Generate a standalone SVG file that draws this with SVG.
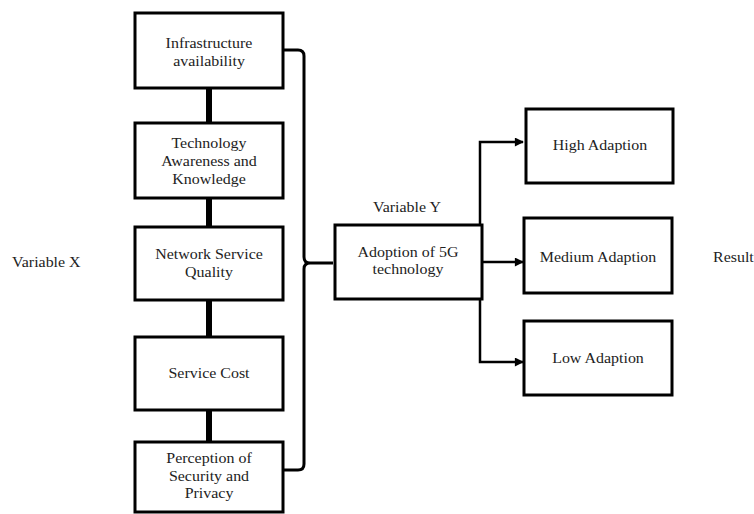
<svg xmlns="http://www.w3.org/2000/svg" width="754" height="514" viewBox="0 0 754 514">
<style>
.box{fill:#fff;stroke:#000;stroke-width:3}
.t{font-family:"Liberation Serif","Times New Roman",serif;font-size:14px;fill:#222;text-anchor:middle}
.tl{font-family:"Liberation Serif","Times New Roman",serif;font-size:14px;fill:#222}
.link{stroke:#000;stroke-width:6;fill:none}
.brace{stroke:#000;stroke-width:3;fill:none}
.arr{stroke:#000;stroke-width:2.5;fill:none;marker-end:url(#ah)}
</style>
<defs>
<marker id="ah" viewBox="0 0 10 10" refX="9" refY="5" markerWidth="4" markerHeight="3.6" markerUnits="strokeWidth" orient="auto">
<path d="M0,0 L10,5 L0,10 z" fill="#000"/>
</marker>
</defs>
<g id="connectors">
<line class="link" x1="209" y1="88" x2="209" y2="123"/>
<line class="link" x1="209" y1="198" x2="209" y2="227"/>
<line class="link" x1="209" y1="300" x2="209" y2="337"/>
<line class="link" x1="209" y1="410" x2="209" y2="442"/>
<path class="brace" d="M283,50 H298 Q304,50 304,56 V257 Q304,263 310,263 H333 M310,263 Q304,263 304,269 V464 Q304,470 298,470 H283"/>
<path class="arr" d="M482,262 H523"/>
<path class="arr" d="M480,225 V142 H523"/>
<path class="arr" d="M480,299 V362 H523"/>
</g>
<g id="label-variable-x"><text class="tl" transform="translate(12,267) scale(1.14,1)">Variable X</text></g>
<g id="label-variable-y"><text class="t" transform="translate(407,212) scale(1.14,1)">Variable Y</text></g>
<g id="label-result"><text class="tl" transform="translate(713,262) scale(1.14,1)">Result</text></g>
<g id="node-infrastructure">
<rect class="box" x="135" y="13" width="148" height="75"/>
<text class="t" transform="translate(209,48) scale(1.14,1)">Infrastructure</text>
<text class="t" transform="translate(209,66) scale(1.14,1)">availability</text>
</g>
<g id="node-awareness">
<rect class="box" x="135" y="123" width="148" height="75"/>
<text class="t" transform="translate(209,148) scale(1.14,1)">Technology</text>
<text class="t" transform="translate(209,166) scale(1.14,1)">Awareness and</text>
<text class="t" transform="translate(209,184) scale(1.14,1)">Knowledge</text>
</g>
<g id="node-network">
<rect class="box" x="135" y="227" width="148" height="73"/>
<text class="t" transform="translate(209,259) scale(1.14,1)">Network Service</text>
<text class="t" transform="translate(209,277) scale(1.14,1)">Quality</text>
</g>
<g id="node-cost">
<rect class="box" x="135" y="337" width="148" height="73"/>
<text class="t" transform="translate(209,378) scale(1.14,1)">Service Cost</text>
</g>
<g id="node-security">
<rect class="box" x="135" y="442" width="148" height="70"/>
<text class="t" transform="translate(209,463) scale(1.14,1)">Perception of</text>
<text class="t" transform="translate(209,481) scale(1.14,1)">Security and</text>
<text class="t" transform="translate(209,498) scale(1.14,1)">Privacy</text>
</g>
<g id="node-adoption">
<rect class="box" x="335" y="225" width="147" height="74"/>
<text class="t" transform="translate(408,257) scale(1.14,1)">Adoption of 5G</text>
<text class="t" transform="translate(408,274) scale(1.14,1)">technology</text>
</g>
<g id="node-high">
<rect class="box" x="526" y="109" width="147" height="74"/>
<text class="t" transform="translate(600,150) scale(1.14,1)">High Adaption</text>
</g>
<g id="node-medium">
<rect class="box" x="524" y="218" width="148" height="75"/>
<text class="t" transform="translate(598,262) scale(1.14,1)">Medium Adaption</text>
</g>
<g id="node-low">
<rect class="box" x="524" y="321" width="148" height="74"/>
<text class="t" transform="translate(598,363) scale(1.14,1)">Low Adaption</text>
</g>
</svg>
